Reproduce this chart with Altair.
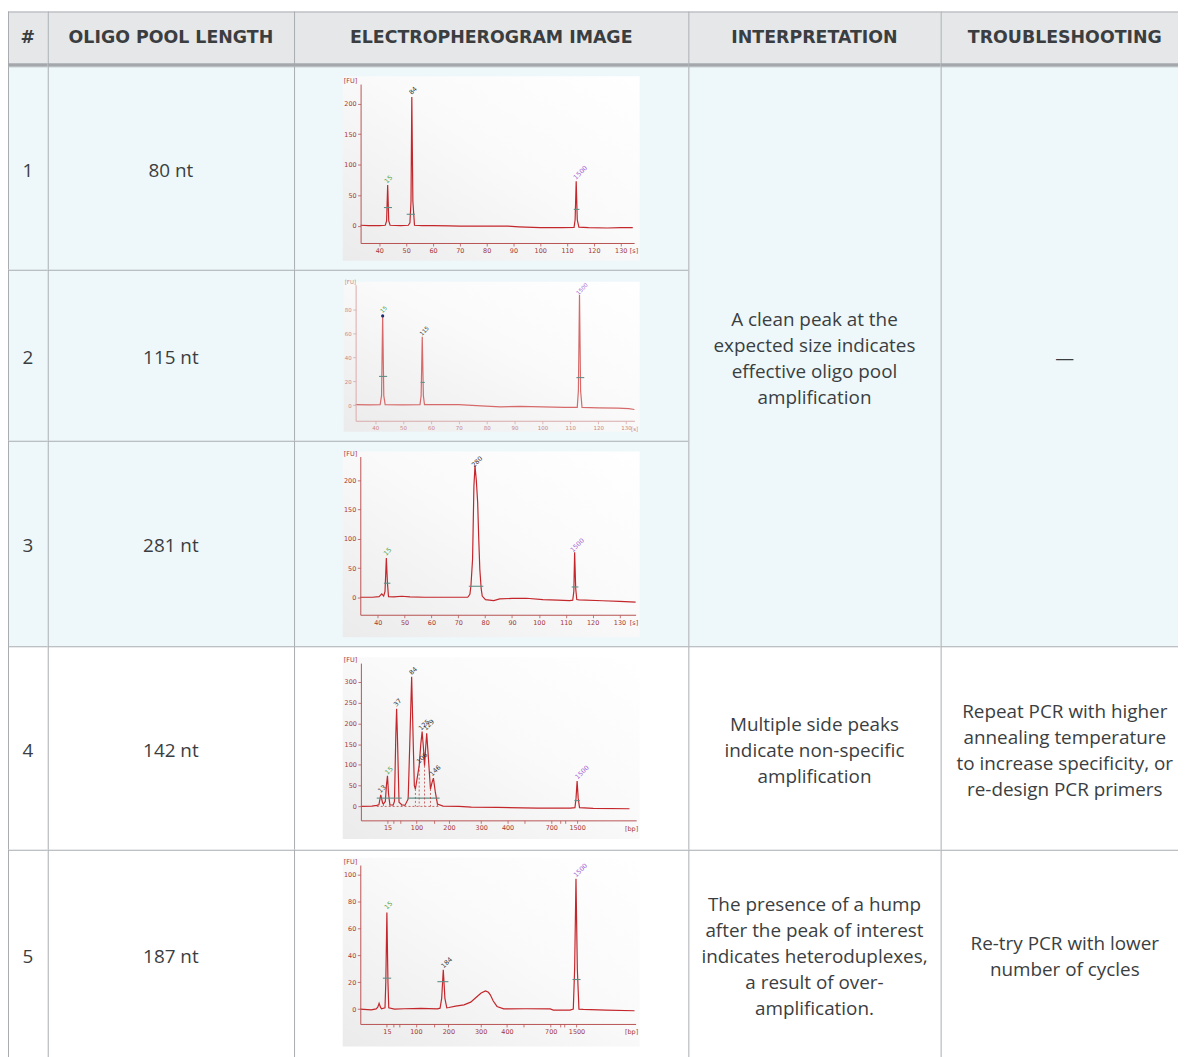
import altair as alt
import pandas as pd

# ---------------- table content ----------------
HEADERS = ["#", "OLIGO POOL LENGTH", "ELECTROPHEROGRAM IMAGE", "INTERPRETATION", "TROUBLESHOOTING"]
ROW_IDS = ["1", "2", "3", "4", "5"]
POOL_LENGTHS = ["80 nt", "115 nt", "281 nt", "142 nt", "187 nt"]
INTERPRETATIONS = [
    ["A clean peak at the", "expected size indicates", "effective oligo pool", "amplification"],
    ["Multiple side peaks", "indicate non-specific", "amplification"],
    ["The presence of a hump", "after the peak of interest", "indicates heteroduplexes,",
     "a result of over-", "amplification."],
]
TROUBLESHOOTING = [
    ["—"],
    ["Repeat PCR with higher", "annealing temperature", "to increase specificity, or", "re-design PCR primers"],
    ["Re-try PCR with lower", "number of cycles"],
]

# ---------------- electropherogram data (time in s, fluorescence in FU) ----------------
EPG1_TIME = [33, 36, 40, 42.2, 42.7, 43.1, 43.5, 44.0, 48, 50.8, 51.4, 51.8, 52.1, 52.5, 53.1, 56, 60, 66,
             70, 80, 88, 92, 100, 108, 112.6, 113.0, 113.4, 113.8, 114.4, 118, 125, 130, 134.5]
EPG1_FU = [1, 0.5, 0.5, 1, 8, 67, 8, 1, 0.5, 1, 5, 40, 211, 40, 1, 0.5, 0.5, 0,
           -0.5, -0.5, -0.5, -1.5, -3, -3, -2.5, 10, 73, 10, -2, -3, -3.5, -3, -3]
EPG1_PEAK_TIME = [43.4, 52.6, 115.0]
EPG1_PEAK_FU = [76, 221, 87]
EPG1_PEAK_TEXT = ["15", "84", "1500"]
EPG1_PEAK_KIND = ["low", "sample", "high"]
EPG1_MARK_T0 = [41.7, 50.2, 112.5]
EPG1_MARK_T1 = [44.7, 53.3, 114.6]
EPG1_MARK_FU = [30, 19, 27]

EPG2_TIME = [33, 38, 41.8, 42.3, 42.7, 43.1, 43.6, 50, 56.1, 56.5, 56.9, 57.3, 57.7, 62, 70, 78, 85, 92,
             100, 108, 112.5, 112.9, 113.3, 113.7, 114.2, 120, 127, 131, 133]
EPG2_FU = [0.5, 0.3, 0.5, 8, 75, 8, 0.5, 0.2, 0.5, 8, 57, 8, 0.5, 0.5, 0.5, -0.5, -1.4, -1,
           -1.4, -1.8, -1.8, 12, 92, 12, -1.8, -2.2, -2.4, -2.8, -3.6]
EPG2_PEAK_TIME = [43.0, 57.6, 114.2]
EPG2_PEAK_FU = [80, 62, 97]
EPG2_PEAK_TEXT = ["15", "115", "1500"]
EPG2_PEAK_KIND = ["low", "sample", "high"]
EPG2_MARK_T0 = [41.4, 56.3, 112.2]
EPG2_MARK_T1 = [44.3, 57.8, 115.0]
EPG2_MARK_FU = [24, 19, 23]

EPG3_TIME = [33.5, 38, 40.5, 41.5, 42.2, 42.7, 43.2, 43.6, 44.0, 46, 48.9, 52, 57.5, 65, 73.5, 74.3, 74.7,
             75.3, 75.8, 76.2, 76.7, 77.2, 77.6, 78, 78.5, 78.9, 80.1, 83.2, 85.4, 90, 95.3, 101.5, 107,
             111.4, 112.6, 113.0, 113.3, 113.7, 114.1, 115, 123.7, 130, 136]
EPG3_FU = [0, 0, 1, 5.7, 2, 10, 67, 25, 1, 0.5, 1.7, 0.5, 0, 0, 0, 5, 20,
           65, 190, 225, 200, 162, 100, 48, 15, 2, -4, -5.7, -2.8, -2, -1.7, -4, -5,
           -5.7, -5, 10, 77, 15, -4, -4.5, -6, -7, -8.5]
EPG3_PEAK_TIME = [43.7, 77.0, 114.3]
EPG3_PEAK_FU = [78, 232, 89]
EPG3_PEAK_TEXT = ["15", "280", "1500"]
EPG3_PEAK_KIND = ["low", "sample", "high"]
EPG3_MARK_T0 = [42.3, 73.9, 112.2]
EPG3_MARK_T1 = [44.7, 79.3, 114.7]
EPG3_MARK_FU = [24, 18.8, 17.6]

EPG4_TIME = [33.5, 37.6, 39.4, 40.2, 40.9, 41.6, 41.9, 42.6, 43.0, 43.4, 43.8, 44.3, 45.5, 46.0, 46.5, 46.8,
             47.1, 47.7, 48.7, 49.9, 51.1, 51.7, 52.4, 53.0, 53.4, 53.8, 54.5, 55.2, 55.8, 56.3, 56.8,
             57.2, 57.6, 58.0, 58.6, 59.4, 60.0, 60.5, 61.2, 62.0, 64.1, 70, 74.6, 84.4, 99.2, 111.5,
             113.2, 113.6, 114.0, 114.4, 114.9, 120, 133.5]
EPG4_FU = [0, 0.8, 2.4, 4, 28, 8, 6, 12, 50, 74, 30, 4, 3, 12, 170, 235,
           170, 10, 4, 2.4, 18, 150, 312, 150, 50, 42, 70, 98, 150, 180, 140,
           98, 140, 176, 120, 42, 58, 68, 35, 6, 0.8, 0, -1.6, -2.4, -4, -4,
           -3, 20, 61, 20, -3, -4.5, -5.6]
EPG4_PEAK_TIME = [41.4, 44.0, 47.2, 53.0, 56.3, 57.1, 58.8, 61.2, 115.9]
EPG4_PEAK_FU = [42, 86, 250, 326, 116, 196, 196, 86, 82]
EPG4_PEAK_TEXT = ["13", "15", "37", "84", "106", "125", "129", "146", "1500"]
EPG4_PEAK_KIND = ["sample", "low", "sample", "sample", "sample", "sample", "sample", "sample", "high"]
EPG4_MARK_T0 = [39.4, 50.9, 113.0]
EPG4_MARK_T1 = [48.7, 62.8, 115.0]
EPG4_MARK_FU = [20, 20, 14]
EPG4_SPLIT_TIME = [41.9, 44.3, 48.7, 53.8, 55.2, 57.2, 59.4, 62.0]
EPG4_SPLIT_FU = [6, 4, 4, 42, 98, 98, 42, 6]

EPG5_TIME = [33.5, 37.6, 39.4, 40.0, 40.5, 41.0, 41.4, 42.7, 43.0, 43.4, 43.8, 44.1, 46.2, 50, 56.1, 62.2,
             63.2, 63.8, 64.4, 65.0, 65.7, 66.5, 69, 72.1, 74.6, 77, 78.5, 80.1, 81.2, 81.9, 83, 84.4,
             86.9, 95, 104.2, 105.4, 111.6, 112.8, 113.3, 113.8, 114.3, 114.9, 116.5, 125, 135.6]
EPG5_FU = [0, -0.5, 0.2, 1.5, 4.4, 1.5, 0.2, 1, 20, 71.7, 20, 1, 0, 0.3, 0.5, 0.2,
           0.7, 8, 29.3, 8, 1, 1.2, 2.2, 3.2, 5.2, 9.4, 12, 13.5, 12.5, 10.6, 6, 2,
           0.2, 0.3, 0.2, -0.7, -0.7, 0, 30, 96.8, 30, 0, -0.2, -0.8, -1.2]
EPG5_PEAK_TIME = [44.0, 65.7, 115.5]
EPG5_PEAK_FU = [77, 34.5, 103]
EPG5_PEAK_TEXT = ["15", "184", "1500"]
EPG5_PEAK_KIND = ["low", "sample", "high"]
EPG5_MARK_T0 = [41.9, 62.2, 112.5]
EPG5_MARK_T1 = [45.0, 66.3, 115.5]
EPG5_MARK_FU = [23, 20.4, 22]

# size-ladder ticks (migration time in s -> fragment size in bp)
LADDER_TIME = [43.4, 45.7, 48.2, 54.2, 60.8, 66.3, 78.3, 88.1, 94.3, 104.4, 107.8, 109.4, 114.0]
LADDER_BP = ["15", "", "", "100", "", "200", "300", "400", "", "700", "", "", "1500"]
SECONDS_TICKS = [40, 50, 60, 70, 80, 90, 100, 110, 120, 130]

# ---------------- styling / layout ----------------
COL_W = [40, 248, 397, 254, 239]
HEADER_H = 55
ROW_H = [205, 172, 207, 205, 210]
LINE_H = 26
TEXT_SHIFT = 3
BORDER = "#a9adb1"
HEADER_BG = "#e6e7e9"
BLUE_BG = "#eef8fa"
WHITE_BG = "#ffffff"
TEXT_COLOR = "#3b3e41"
BODY_FONT = "Open Sans"
HEAD_FONT = "DejaVu Sans"
SMALL_FONT = "DejaVu Sans"
KIND_COLORS = ["#3f9b3f", "#333333", "#a05ad2"]
ONE = pd.DataFrame({"a": [0]})


def px_rect(x0, x1, y0, y1, color):
    return alt.Chart(ONE).mark_rect(color=color, opacity=1).encode(
        x=alt.value(x0), x2=alt.value(x1), y=alt.value(y0), y2=alt.value(y1))


def borders(w, h, header=False):
    out = [px_rect(0, 1, 0, h, BORDER), px_rect(0, w, 0, 1, BORDER)]
    if header:
        out.append(px_rect(0, w, h - 3, h, "#a4a8ac"))
    return out


def text_cell(w, h, lines, bg, size=19, weight="normal", font=BODY_FONT, cx=None, header=False):
    df = pd.DataFrame({"label": ["\n".join(lines)]})
    shift = -1 if header else TEXT_SHIFT
    y0 = h / 2 - (len(lines) - 1) * LINE_H / 2 + shift
    txt = alt.Chart(df).mark_text(
        align="center", baseline="middle", font=font, fontSize=size, fontWeight=weight,
        color=TEXT_COLOR, lineBreak="\n", lineHeight=LINE_H,
    ).encode(x=alt.value(cx if cx is not None else w / 2), y=alt.value(y0), text="label:N")
    return alt.layer(txt, *borders(w, h, header)).properties(
        width=w, height=h, view=alt.ViewBackground(fill=bg))


def epg_cell(w, h, bg, frame, xdom, xrange, ydom, yrange, yticks, times, fus,
             pk_t, pk_fu, pk_text, pk_kind, mk_t0, mk_t1, mk_fu, ladder=False,
             light=False, split=None, unit="[s]", dot=None):
    axis_c = "#dba9a9" if light else "#b85454"
    label_c = "#c98686" if light else "#a53838"
    trace_c = "#d66a6a" if light else "#c3262b"
    fs = 5.5 if light else 6.5
    xs = alt.Scale(domain=xdom, range=xrange, nice=False, zero=False)
    ys = alt.Scale(domain=ydom, range=yrange, nice=False, zero=False)
    common = dict(title=None, grid=False, domainColor=axis_c, tickColor=axis_c, labelColor=label_c,
                  labelFont=SMALL_FONT, labelFontSize=fs, tickSize=3, labelPadding=1.5,
                  labelOverlap=False, labelFlush=False, labelBound=False, zindex=1,
                  domainWidth=1, tickWidth=0.8)
    if ladder:
        expr = "".join(f"datum.value == {t} ? '{b}' : " for t, b in zip(LADDER_TIME, LADDER_BP)) + "''"
        xaxis = alt.Axis(orient="bottom", offset=-(h - yrange[0]), values=LADDER_TIME, labelExpr=expr,
                         **common)
    else:
        xaxis = alt.Axis(orient="bottom", offset=-(h - yrange[0]), values=SECONDS_TICKS, **common)
    yaxis = alt.Axis(orient="left", offset=-xrange[0], values=yticks, **common)

    grad = alt.LinearGradient(
        gradient="linear",
        stops=[alt.GradientStop(offset=0, color="#ebebeb"), alt.GradientStop(offset=0.55, color="#fafafa"),
               alt.GradientStop(offset=1, color="#ffffff")],
        x1=0, y1=1, x2=1, y2=0)
    layers = [
        alt.Chart(ONE).mark_rect(fill=grad).encode(
            x=alt.value(frame[0]), x2=alt.value(frame[1]), y=alt.value(frame[2]), y2=alt.value(frame[3]))
    ]
    trace = pd.DataFrame({"t": times, "fu": fus, "i": list(range(len(times)))})
    layers.append(
        alt.Chart(trace).mark_line(color=trace_c, strokeWidth=1.2).encode(
            x=alt.X("t:Q", scale=xs, axis=xaxis), y=alt.Y("fu:Q", scale=ys, axis=yaxis), order="i:Q")
    )
    marks = pd.DataFrame({"t0": mk_t0, "t1": mk_t1, "fu": mk_fu})
    layers.append(
        alt.Chart(marks).mark_rule(color="#5e8f87", strokeWidth=1.1).encode(
            x=alt.X("t0:Q", scale=xs, axis=xaxis), x2="t1:Q", y=alt.Y("fu:Q", scale=ys, axis=yaxis))
    )
    if split is not None:
        sp = pd.DataFrame({"t": split[0], "fu": split[1], "zero": [0] * len(split[0])})
        layers.append(
            alt.Chart(sp).mark_rule(color="#c04040", strokeWidth=0.8, strokeDash=[2, 2]).encode(
                x=alt.X("t:Q", scale=xs, axis=xaxis), y=alt.Y("fu:Q", scale=ys, axis=yaxis), y2="zero:Q")
        )
        base = pd.DataFrame({"t0": [mk_t0[0]], "t1": [mk_t1[1]], "fu": [0]})
        layers.append(
            alt.Chart(base).mark_rule(color="#c04040", strokeWidth=0.8, strokeDash=[2, 2]).encode(
                x=alt.X("t0:Q", scale=xs, axis=xaxis), x2="t1:Q", y=alt.Y("fu:Q", scale=ys, axis=yaxis))
        )
    if dot is not None:
        dd = pd.DataFrame({"t": [dot[0]], "fu": [dot[1]]})
        layers.append(
            alt.Chart(dd).mark_point(filled=True, color="#1c2a6e", size=10, opacity=1).encode(
                x=alt.X("t:Q", scale=xs, axis=xaxis), y=alt.Y("fu:Q", scale=ys, axis=yaxis))
        )
    pk = pd.DataFrame({"t": pk_t, "fu": pk_fu, "label": pk_text, "kind": pk_kind})
    layers.append(
        alt.Chart(pk).mark_text(angle=315, font=SMALL_FONT, fontSize=fs, align="center",
                                baseline="middle").encode(
            x=alt.X("t:Q", scale=xs, axis=xaxis), y=alt.Y("fu:Q", scale=ys, axis=yaxis), text="label:N",
            color=alt.Color("kind:N", scale=alt.Scale(domain=["low", "sample", "high"], range=KIND_COLORS),
                            legend=None))
    )
    units = pd.DataFrame({"u": ["[FU]"]})
    layers.append(
        alt.Chart(units).mark_text(align="left", baseline="middle", font=SMALL_FONT, fontSize=fs,
                                   color=label_c).encode(
            x=alt.value(frame[0] + 1), y=alt.value(yrange[1] - 3), text="u:N")
    )
    xunit = pd.DataFrame({"u": [unit]})
    layers.append(
        alt.Chart(xunit).mark_text(align="right", baseline="middle", font=SMALL_FONT, fontSize=fs,
                                   color=label_c).encode(
            x=alt.value(frame[1] - 1.5), y=alt.value(yrange[0] + 8.5), text="u:N")
    )
    layers += borders(w, h)
    return alt.layer(*layers).properties(width=w, height=h, view=alt.ViewBackground(fill=bg))


W0, W1, W2, W3, W4 = COL_W
H1, H2, H3, H4, H5 = ROW_H
LAST_CX = 125

header = alt.hconcat(
    *[text_cell(w, HEADER_H, [lab], HEADER_BG, size=17.5, weight="bold", font=HEAD_FONT,
                cx=(LAST_CX if i == 4 else None), header=True)
      for i, (w, lab) in enumerate(zip(COL_W, HEADERS))],
    spacing=0, bounds="flush")

epg1 = epg_cell(W2, H1, BLUE_BG, [49, 348, 10, 196], [33, 135], [67, 342.4], [-28, 232], [178, 18],
                [0, 50, 100, 150, 200], EPG1_TIME, EPG1_FU, EPG1_PEAK_TIME, EPG1_PEAK_FU, EPG1_PEAK_TEXT,
                EPG1_PEAK_KIND, EPG1_MARK_T0, EPG1_MARK_T1, EPG1_MARK_FU)
epg2 = epg_cell(W2, H2, BLUE_BG, [50, 348, 12, 163], [33, 133], [62, 342.7], [-13, 100.5], [152, 15],
                [0, 20, 40, 60, 80], EPG2_TIME, EPG2_FU, EPG2_PEAK_TIME, EPG2_PEAK_FU, EPG2_PEAK_TEXT,
                EPG2_PEAK_KIND, EPG2_MARK_T0, EPG2_MARK_T1, EPG2_MARK_FU, light=True, dot=(42.7, 74.5))
epg3 = epg_cell(W2, H3, BLUE_BG, [49, 348, 11, 198], [33.5, 136], [66.7, 343.9], [-30, 241], [175.3, 16],
                [0, 50, 100, 150, 200], EPG3_TIME, EPG3_FU, EPG3_PEAK_TIME, EPG3_PEAK_FU, EPG3_PEAK_TEXT,
                EPG3_PEAK_KIND, EPG3_MARK_T0, EPG3_MARK_T1, EPG3_MARK_FU)
epg4 = epg_cell(W2, H4, WHITE_BG, [49, 348, 11, 194], [33.5, 136], [67.3, 344.5], [-33.5, 345], [175.3, 17],
                [0, 50, 100, 150, 200, 250, 300], EPG4_TIME, EPG4_FU, EPG4_PEAK_TIME, EPG4_PEAK_FU,
                EPG4_PEAK_TEXT, EPG4_PEAK_KIND, EPG4_MARK_T0, EPG4_MARK_T1, EPG4_MARK_FU, ladder=True,
                split=(EPG4_SPLIT_TIME, EPG4_SPLIT_FU), unit="[bp]")
epg5 = epg_cell(W2, H5, WHITE_BG, [49, 348, 8, 198], [33.5, 136], [66.7, 343.9], [-11, 107], [175.3, 15.3],
                [0, 20, 40, 60, 80, 100], EPG5_TIME, EPG5_FU, EPG5_PEAK_TIME, EPG5_PEAK_FU,
                EPG5_PEAK_TEXT, EPG5_PEAK_KIND, EPG5_MARK_T0, EPG5_MARK_T1, EPG5_MARK_FU, ladder=True,
                unit="[bp]")

epgs = [epg1, epg2, epg3]
left13 = alt.vconcat(
    *[alt.hconcat(text_cell(W0, h, [ROW_IDS[i]], BLUE_BG), text_cell(W1, h, [POOL_LENGTHS[i]], BLUE_BG),
                  epgs[i], spacing=0, bounds="flush")
      for i, h in enumerate([H1, H2, H3])],
    spacing=0)
H13 = H1 + H2 + H3
block13 = alt.hconcat(
    left13,
    alt.hconcat(text_cell(W3, H13, INTERPRETATIONS[0], BLUE_BG),
                text_cell(W4, H13, TROUBLESHOOTING[0], BLUE_BG, cx=LAST_CX),
                spacing=0, bounds="flush"),
    spacing=0)

row4 = alt.hconcat(
    text_cell(W0, H4, [ROW_IDS[3]], WHITE_BG), text_cell(W1, H4, [POOL_LENGTHS[3]], WHITE_BG), epg4,
    text_cell(W3, H4, INTERPRETATIONS[1], WHITE_BG),
    text_cell(W4, H4, TROUBLESHOOTING[1], WHITE_BG, cx=LAST_CX),
    spacing=0, bounds="flush")
row5 = alt.hconcat(
    text_cell(W0, H5, [ROW_IDS[4]], WHITE_BG), text_cell(W1, H5, [POOL_LENGTHS[4]], WHITE_BG), epg5,
    text_cell(W3, H5, INTERPRETATIONS[2], WHITE_BG),
    text_cell(W4, H5, TROUBLESHOOTING[2], WHITE_BG, cx=LAST_CX),
    spacing=0, bounds="flush")

chart = alt.vconcat(header, block13, row4, row5, spacing=0).properties(
    padding=0, background="white"
).configure_view(stroke=None)

chart.save("out.html", embed_options={"renderer": "svg", "actions": False})
